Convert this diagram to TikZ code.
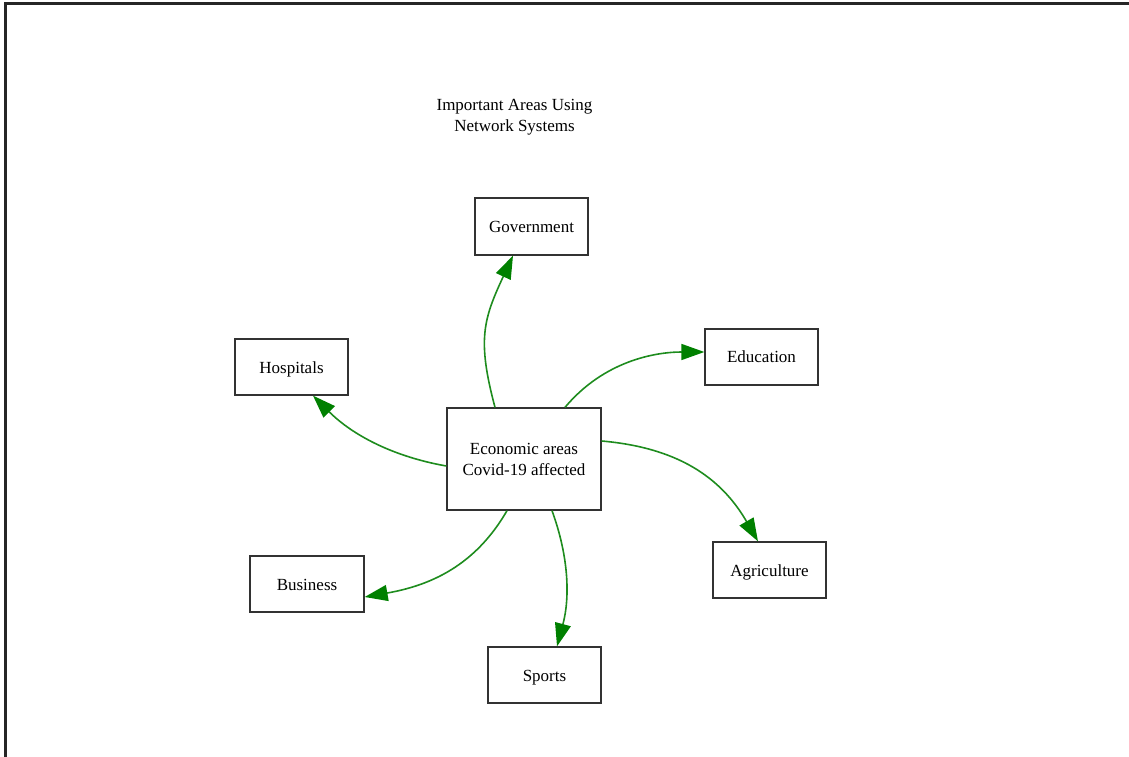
\documentclass[tikz,border=0pt]{standalone}
\usepackage{fontspec}
\setmainfont{Liberation Serif}
\usetikzlibrary{arrows.meta}
\definecolor{linegreen}{RGB}{30,140,30}
\definecolor{arrowgreen}{RGB}{0,128,0}
\definecolor{boxline}{RGB}{50,50,50}
\tikzset{
  box/.style={draw=boxline, line width=1.3pt, minimum width=113pt, minimum height=56pt,
    inner sep=0pt, align=center, font=\fontsize{17}{21}\selectfont},
  single/.style={text height=14pt, text depth=2pt},
  edge/.style={draw=linegreen, line width=1.6pt,
    -{Triangle[length=23pt,width=16pt,color=arrowgreen]}},
  titletext/.style={inner sep=0pt, align=center, font=\fontsize{17}{21}\selectfont}
}
\begin{document}
\begin{tikzpicture}[x=1pt,y=1pt]
\useasboundingbox (0,0) rectangle (1129,756);
\draw[line width=3pt, black!85] (5,-5) -- (5,752) -- (1135,752);

\node[titletext] (title) at (514.5,638.5) {Important Areas Using\\Network Systems};

\node[box, minimum width=154pt, minimum height=102pt] (c) at (524,297) {Economic areas\\Covid-19 affected};
\node[box, single, minimum height=57pt] (gov) at (531.5,529.5) {Government};
\node[box, single] (hosp) at (291.5,389) {Hospitals};
\node[box, single] (edu) at (761.5,399) {Education};
\node[box, single] (agri) at (769.5,186) {Agriculture};
\node[box, single, minimum width=114pt] (bus) at (307,172) {Business};
\node[box, single] (sports) at (544.5,81) {Sports};

\draw[edge] ([xshift=-29pt]c.north) .. controls +(105:70) and +(245:70) .. ([xshift=-18.5pt]gov.south);
\draw[edge] ([xshift=41pt]c.north) .. controls +(50:60) and +(180:50) .. ([yshift=5pt]edu.west);
\draw[edge] ([yshift=-7pt]c.west) .. controls +(170:55) and +(-45:55) .. ([xshift=21.5pt]hosp.south);
\draw[edge] ([yshift=18pt]c.east) .. controls +(-5:75) and +(120:75) .. ([xshift=-11.5pt]agri.north);
\draw[edge] ([xshift=-17pt]c.south) .. controls +(-120:65) and +(10:65) .. ([yshift=-13pt]bus.east);
\draw[edge] ([xshift=28pt]c.south) .. controls +(-70:50) and +(75:50) .. ([xshift=12.5pt]sports.north);
\end{tikzpicture}
\end{document}
